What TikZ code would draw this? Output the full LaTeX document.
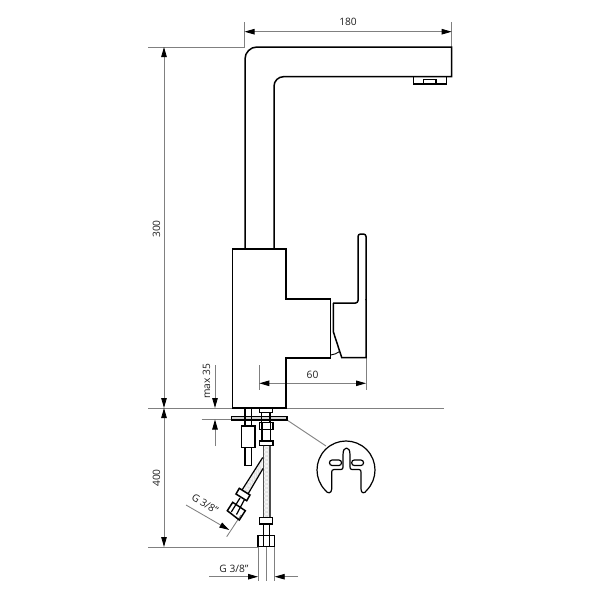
\documentclass[tikz,border=0pt]{standalone}
\usepackage{fontspec}
\setmainfont{Open Sans}
\usetikzlibrary{arrows.meta,calc}
\definecolor{dimgr}{gray}{0.5}
\definecolor{lbl}{gray}{0.12}
\tikzset{
  x=1pt,y=-1pt,
  part/.style={draw=black,line width=1.5pt,line join=miter},
  thin part/.style={draw=black,line width=1.2pt},
  dimline/.style={draw=dimgr,line width=0.85pt},
  dimarrow/.style={draw=dimgr,line width=0.85pt,{Triangle[length=10pt,width=5.5pt,black]}-{Triangle[length=10pt,width=5.5pt,black]}},
  endarrow/.style={draw=dimgr,line width=0.85pt,-{Triangle[length=10pt,width=5.5pt,black]}},
  lab/.style={font=\fontsize{10.2}{12}\selectfont,text=lbl,inner sep=0pt},
  hose/.style={fill=gray!8,draw=none},
  hatch/.style={draw=gray!28,line width=0.5pt}
}
\begin{document}
\begin{tikzpicture}
\useasboundingbox (0,0) rectangle (600,600);
\fill[white] (0,0) rectangle (600,600);
% reference / extension lines
\draw[dimline] (148,47) -- (245,47);
\draw[dimline] (148,408) -- (444,408);
\draw[dimline] (148,547) -- (258,547);
\draw[dimline] (244.5,22) -- (244.5,47);
\draw[dimline] (451.7,22) -- (451.7,47);
\draw[dimline] (201.5,419) -- (232,419);
\draw[dimline] (259.3,365) -- (259.3,390);
\draw[dimline] (366,357) -- (366,390);
\draw[dimline] (258,547) -- (258,581);
\draw[dimline] (266,547) -- (266,581);
\draw[dimline] (274.7,547) -- (274.7,581);
\draw[dimline] (287,420) -- (326,446);
\draw[dimline] (226.7,536.7) -- (241,515);
% dimensions
\draw[dimarrow] (244.5,31.7) -- (451.7,31.7);
\draw[dimarrow] (164,47) -- (164,408);
\draw[dimarrow] (164,408) -- (164,547);
\draw[dimarrow] (259.3,383.3) -- (366,383.3);
\draw[endarrow] (215,365) -- (215,408);
\draw[endarrow] (215,446) -- (215,419.5);
\draw[endarrow] (209,576.7) -- (258,576.7);
\draw[endarrow] (298,576.7) -- (274.7,576.7);
\draw[endarrow] (186,505) -- (229.3,530);
% labels
\node[lab] (l180) at (348,21.5) {180};
\node[lab,rotate=90] (l300) at (156.5,229) {300};
\node[lab,rotate=90] (l400) at (156.5,478) {400};
\node[lab,rotate=90] (lmax) at (206.5,381.5) {max 35};
\node[lab] (l60) at (312.5,375) {60};
\node[lab] (lg1) at (234,568.5) {G 3/8"};
\node[lab,rotate=-32] (lg2) at (205,504) {G 3/8"};
% spout
\draw[part] (245,249) -- (245,59) arc[start angle=180,end angle=270,radius=12] -- (451.7,47) -- (451.7,76.7) -- (283.5,76.7) arc[start angle=270,end angle=180,radius=9.5] -- (274,249);
% aerator
\draw[thin part] (413.5,77) -- (413.5,84) -- (446.5,84) -- (446.5,77);
\draw[thin part] (423.3,84) -- (423.3,79.5) -- (436,79.5) -- (436,84);
% body
\draw[part] (232.3,408) -- (232.3,249) -- (286,249) -- (286,299) -- (330.5,299) -- (330.5,358) -- (286,358) -- (286,408) -- cycle;
% handle
\draw[part,rounded corners=2.5pt] (333,303) -- (358,303) -- (358,234) -- (366,234) -- (366,300);
\draw[part] (366,299) -- (366,357.5) -- (341.7,357.5) -- (333.3,331.7) -- (333.3,303);
\draw[thin part,line width=0.9pt] (330.7,355) .. controls (334,354.5) and (337,353.5) .. (339.6,351.5);
% plate
\draw[part,fill=gray!35] (231.7,416.5) rectangle (287,420);
% left connector
\draw[thin part] (245,408) -- (245,426) (251.7,408) -- (251.7,426);
\draw[part] (241.3,426) rectangle (255,447.5);
\draw[thin part] (245,447.5) -- (245,465.7) -- (251.7,465.7) -- (251.7,447.5);
% right connector
\draw[thin part] (259.5,408) -- (259.5,412.5) -- (272.7,412.5) -- (272.7,408);
\draw[thin part] (261.5,412.5) -- (261.5,422) (270,412.5) -- (270,422);
\draw[part] (259.5,422.5) rectangle (273,429.5);
\draw[thin part] (262,422.5) -- (262,429.5) (270.5,422.5) -- (270.5,429.5);
\draw[thin part] (262,429.5) -- (262,441) (270.5,429.5) -- (270.5,441);
\draw[part] (259.5,441) rectangle (273,445.5);
% hoses
\path[hose] (263.5,445.5) rectangle (270,517.5);
\path[hose] (263.5,458) -- (263.5,470) -- (248,494) -- (242,490) -- cycle;
\foreach \yy in {446,450,...,514}{
  \draw[hatch] (263.5,\yy) -- (270,\yy+4);
  \draw[hatch] (270,\yy) -- (263.5,\yy+4);
}
\foreach \tv in {0,0.125,...,0.875}{
  \draw[hatch] ($(261.5,461)!\tv!(242,490)$) -- ($(261.5,470.5)!\tv+0.125!(248,494)$);
  \draw[hatch] ($(261.5,470.5)!\tv!(248,494)$) -- ($(261.5,461)!\tv+0.125!(242,490)$);
}
\draw[thin part,draw=gray!60!black] (263.3,445.5) -- (263.3,517.3) (270,445.5) -- (270,517.3);
\draw[thin part] (262.7,457.5) -- (242,490) (263,468.5) -- (248,494);
% straight end
\draw[part] (259.3,517.5) rectangle (272.7,524);
\draw[thin part] (263.3,524) -- (263.3,546.7) (269.3,524) -- (269.3,546.7);
\draw[part] (258,535.7) rectangle (274.7,546.7);
% angled end
\draw[part] (236,494) -- (239.3,488.3) -- (250,495) -- (246.7,500.7) -- cycle;
\draw[thin part] (240,498) -- (231.3,512) (244.5,499.5) -- (236.5,514.5);
\draw[part] (227.3,510.7) -- (232.7,502.3) -- (245.3,510.7) -- (239.3,520) -- cycle;
% clip
\draw[thin part,line join=round] (325.5,490.5) arc[start angle=135,end angle=405,radius=29]
  .. controls (365,493.5) and (361,494) .. (361,489) -- (361,472)
  .. controls (361,470.5) and (360.5,469.5) .. (359,469.5) -- (352,469.5)
  .. controls (350.5,469.5) and (350,468.5) .. (350,467) -- (350,455)
  .. controls (350,450) and (348.5,448) .. (346.5,448)
  .. controls (344.5,448) and (343,450) .. (343,455) -- (343,467)
  .. controls (343,468.5) and (342.5,469.5) .. (341,469.5) -- (334,469.5)
  .. controls (332.5,469.5) and (331.7,470.5) .. (331.7,472) -- (331.7,489)
  .. controls (331.7,494) and (327,493.5) .. (325.5,490.5);
\draw[thin part,rounded corners=2.6pt] (329.5,460) rectangle (341.5,465.5);
\draw[thin part,rounded corners=2.6pt] (351.7,460) rectangle (363.5,465.5);
\end{tikzpicture}
\end{document}
